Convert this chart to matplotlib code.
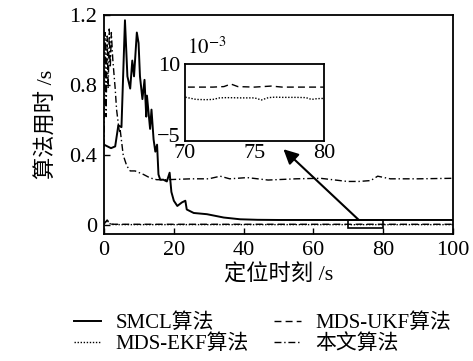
import matplotlib
matplotlib.use('Agg')
import matplotlib.pyplot as plt
from matplotlib.patches import Rectangle
from matplotlib.transforms import ScaledTranslation

plt.rcParams['font.family'] = ['Liberation Serif', 'Noto Sans CJK SC']
plt.rcParams['mathtext.fontset'] = 'stix'
plt.rcParams['axes.unicode_minus'] = True

# SMCL algorithm (solid)
smcl_x = [0, 1, 2, 3.2, 4.1, 5, 6, 6.7, 7.5, 8.1, 8.6, 9.4, 9.9, 10.3, 11, 11.6,
          12.1, 12.3, 13.2, 13.6, 14.2, 14.7, 15.2, 15.6, 16.1, 17, 18, 18.8,
          19.3, 20, 21, 22.3, 23.3, 23.7, 25.7, 29.5, 34.3, 39, 44, 50, 60, 70,
          80, 90, 100]
smcl_y = [0.46, 0.45, 0.44, 0.45, 0.57, 0.56, 1.17, 0.85, 0.78, 0.94, 0.85, 1.10,
          1.04, 0.85, 0.72, 0.83, 0.62, 0.74, 0.55, 0.66, 0.49, 0.42, 0.46, 0.29,
          0.26, 0.26, 0.25, 0.30, 0.19, 0.14, 0.11, 0.13, 0.14, 0.09, 0.07, 0.063,
          0.044, 0.034, 0.031, 0.03, 0.03, 0.03, 0.03, 0.03, 0.03]

# MDS-UKF algorithm (dashed)
ukf_x = [0, 0.5, 0.9, 1.5, 2, 3, 5, 10, 20, 30, 40, 50, 60, 70, 71, 72, 72.8,
         73.3, 73.8, 75, 75.6, 76.2, 77, 78, 79, 80, 90, 100]
ukf_y = [0.006, 0.02, 0.03, 0.014, 0.0065, 0.0056, 0.0055, 0.0055, 0.0055,
         0.0055, 0.0055, 0.0055, 0.0055, 0.0055, 0.0055, 0.0055, 0.0056,
         0.0061, 0.0056, 0.0055, 0.0056, 0.0057, 0.0055, 0.0055, 0.0055,
         0.0055, 0.0055, 0.0055]

# MDS-EKF algorithm (dotted)
ekf_x = [0, 0.5, 0.9, 1.5, 2, 3, 5, 10, 20, 30, 40, 50, 60, 70, 70.8, 71.5, 72,
         72.5, 73, 74, 75, 75.5, 76, 76.5, 77, 78, 78.7, 79.1, 79.5, 80, 90, 100]
ekf_y = [0.004, 0.018, 0.028, 0.012, 0.005, 0.0036, 0.0035, 0.0035, 0.0035,
         0.0035, 0.0035, 0.0035, 0.0035, 0.00355, 0.0031, 0.00305, 0.0031,
         0.0034, 0.00345, 0.0034, 0.0034, 0.0030, 0.00345, 0.00355, 0.0035,
         0.0035, 0.00345, 0.0031, 0.00325, 0.0033, 0.0034, 0.0034]

# proposed algorithm (dash-dot)
our_x = [0, 0.3, 0.6, 0.9, 1.2, 1.5, 1.8, 2.1, 2.5, 3.2, 3.6, 4.4, 4.6, 5.5, 6.5,
         7.5, 8.9, 11.3, 13.2, 15.1, 18, 25, 30, 33.3, 36, 41, 44, 47, 55, 62,
         69.7, 73, 76.4, 78.4, 82, 90, 100]
our_y = [0.45, 1.10, 0.62, 1.08, 0.78, 1.12, 0.90, 1.10, 0.95, 0.78, 0.66, 0.53,
         0.55, 0.40, 0.34, 0.31, 0.31, 0.29, 0.27, 0.26, 0.26, 0.265, 0.265,
         0.28, 0.265, 0.272, 0.265, 0.258, 0.265, 0.268, 0.25, 0.25, 0.255,
         0.28, 0.265, 0.265, 0.268]

x_ticks = [0, 20, 40, 60, 80, 100]
y_ticks = [0, 0.4, 0.8, 1.2]
y_tick_labels = ['0', '0.4', '0.8', '1.2']

fig = plt.figure(figsize=(4.73, 3.61), dpi=100)
ax = fig.add_axes([0.2199, 0.3518, 0.738, 0.6066])

l_smcl, = ax.plot(smcl_x, smcl_y, '-', color='black', lw=1.4, label='SMCL算法')
l_ukf, = ax.plot(ukf_x, ukf_y, color='black', lw=1.0, dashes=(5, 3), label='MDS-UKF算法')
l_ekf, = ax.plot(ekf_x, ekf_y, color='black', lw=1.0, dashes=(1, 1.2), label='MDS-EKF算法')
l_our, = ax.plot(our_x, our_y, color='black', lw=1.0, dashes=(5, 2, 1, 2), label='本文算法')

ax.set_xlim(0, 100)
ax.set_ylim(-0.05, 1.2)
ax.set_xticks(x_ticks)
ax.set_yticks(y_ticks, labels=y_tick_labels)
ax.tick_params(direction='in', length=4, width=1, labelsize=16, pad=5)
for s in ax.spines.values():
    s.set_linewidth(1.3)
ax.set_xlabel('定位时刻 /s', fontsize=16, labelpad=3)
ax.set_ylabel('算法用时 /s', fontsize=16, labelpad=8)

ax.add_patch(Rectangle((70, -0.018), 10, 0.05, fill=False, ec='black', lw=1.2, zorder=5))
ax.annotate('', xy=(51.4, 0.434), xytext=(73, 0.03),
            arrowprops=dict(arrowstyle='-|>', color='black', lw=1.5,
                            mutation_scale=22, shrinkA=0, shrinkB=0))

ins = fig.add_axes([0.3911, 0.6094, 0.2939, 0.2133])
ins.plot(ukf_x, ukf_y, color='black', lw=1.0, dashes=(5, 3))
ins.plot(ekf_x, ekf_y, color='black', lw=1.0, dashes=(1, 1.2))
ins.set_xlim(70, 80)
ins.set_ylim(-0.005, 0.010)
ins.set_xticks([70, 75, 80])
ins.set_yticks([-0.005, 0.010], labels=['\u22125', '10'])
ins.tick_params(length=0, labelsize=16, pad=3)
ins.tick_params(axis='x', pad=2)
for s in ins.spines.values():
    s.set_linewidth(1.3)
# lift the lower y label a little so it clears the "70" below it
lbl = ins.get_yticklabels()[0]
lbl.set_transform(lbl.get_transform() + ScaledTranslation(0, 4 / 72, fig.dpi_scale_trans))
ins.text(0.015, 1.21, r'$10^{-3}$', transform=ins.transAxes, fontsize=15,
         ha='left', va='center')

fig.legend([l_smcl, l_ekf, l_ukf, l_our],
           ['SMCL算法', 'MDS-EKF算法', 'MDS-UKF算法', '本文算法'],
           ncol=2, loc='center', bbox_to_anchor=(0.555, 0.075), frameon=False,
           fontsize=15, handlelength=1.3, handletextpad=0.7, columnspacing=1.2,
           labelspacing=0.05)

fig.savefig('out.png', dpi=100)
